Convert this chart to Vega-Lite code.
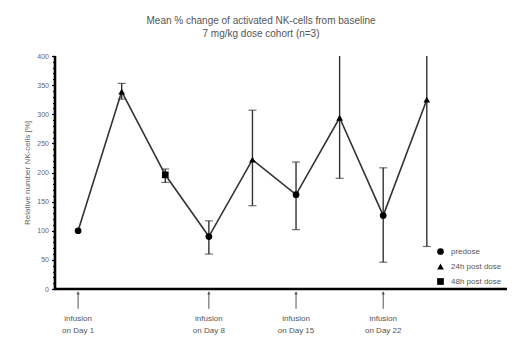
{
  "$schema": "https://vega.github.io/schema/vega-lite/v6.json",
  "autosize": "none",
  "padding": {"left": 55, "top": 56, "right": 15, "bottom": 63},
  "width": 452,
  "height": 233,
  "background": "white",
  "config": {
    "view": {"stroke": null},
    "font": "Liberation Sans",
    "axis": {"grid": false, "domain": false, "tickColor": "black"}
  },
  "title": {
    "text": ["Mean % change of activated NK-cells from baseline", "7 mg/kg dose cohort (n=3)"],
    "fontSize": 10,
    "fontWeight": "normal",
    "color": "#555555",
    "anchor": "middle",
    "dx": -20,
    "offset": 13,
    "lineHeight": 13
  },
  "datasets": {
    "pts": [
      {"i": 0, "time": "predose", "mean": 100},
      {"i": 1, "time": "24h post dose", "mean": 339, "lo": 326, "hi": 353},
      {"i": 2, "time": "48h post dose", "mean": 196, "lo": 183, "hi": 206},
      {"i": 3, "time": "predose", "mean": 90, "lo": 60, "hi": 117},
      {"i": 4, "time": "24h post dose", "mean": 222, "lo": 143, "hi": 307},
      {"i": 5, "time": "predose", "mean": 162, "lo": 102, "hi": 218},
      {"i": 6, "time": "24h post dose", "mean": 294, "lo": 190, "hi": 420},
      {"i": 7, "time": "predose", "mean": 126, "lo": 46, "hi": 208},
      {"i": 8, "time": "24h post dose", "mean": 325, "lo": 73, "hi": 420}
    ],
    "inf": [
      {"i": 0, "label": "infusion\non Day 1"},
      {"i": 3, "label": "infusion\non Day 8"},
      {"i": 5, "label": "infusion\non Day 15"},
      {"i": 7, "label": "infusion\non Day 22"}
    ]
  },
  "resolve": {"axis": {"y": "independent"}},
  "layer": [
    {
      "data": {"name": "pts"},
      "mark": {"type": "line", "color": "#333333", "strokeWidth": 1.6},
      "encoding": {
        "x": {"field": "i", "type": "quantitative", "scale": {"domain": [-0.53, 9.84], "nice": false, "zero": false},
              "axis": {"labels": false, "ticks": false, "title": null}},
        "y": {"field": "mean", "type": "quantitative", "scale": {"domain": [0, 400], "nice": false},
              "axis": {"values": [0,10,20,30,40,50,60,70,80,90,100,110,120,130,140,150,160,170,180,190,200,210,220,230,240,250,260,270,280,290,300,310,320,330,340,350,360,370,380,390,400],
                       "labels": false, "tickSize": 2.5, "tickColor": "black", "tickWidth": 1.2, "title": null, "orient": "left"}}
      }
    },
    {
      "data": {"values": [{}]},
      "mark": {"type": "rule", "color": "black", "strokeWidth": 2.6},
      "encoding": {
        "x": {"datum": -0.53, "type": "quantitative"},
        "x2": {"datum": 9.84},
        "y": {"datum": 0, "type": "quantitative", "axis": null}
      }
    },
    {
      "data": {"values": [{}]},
      "mark": {"type": "rule", "color": "black", "strokeWidth": 2.6},
      "encoding": {
        "x": {"datum": -0.53, "type": "quantitative"},
        "y": {"datum": 0, "type": "quantitative", "axis": null},
        "y2": {"datum": 400}
      }
    },
    {
      "data": {"name": "pts"},
      "transform": [{"filter": "isValid(datum.lo)"}],
      "mark": {"type": "rule", "color": "#333333", "strokeWidth": 1.4, "clip": true},
      "encoding": {
        "x": {"field": "i", "type": "quantitative"},
        "y": {"field": "lo", "type": "quantitative",
              "axis": {"values": [0,50,100,150,200,250,300,350,400], "tickSize": 3.5, "tickColor": "black", "tickWidth": 1.2,
                       "labelFontSize": 7, "labelColor": "#666666", "labelPadding": 3, "orient": "left",
                       "title": "Relative number NK-cells [%]", "titleFontSize": 8, "titleFontWeight": "normal",
                       "titleColor": "#666666", "titlePadding": 5}},
        "y2": {"field": "hi"}
      }
    },
    {
      "data": {"name": "pts"},
      "transform": [{"filter": "isValid(datum.lo)"}],
      "mark": {"type": "tick", "orient": "horizontal", "color": "#333333", "size": 8, "thickness": 1.2, "clip": true},
      "encoding": {
        "x": {"field": "i", "type": "quantitative"},
        "y": {"field": "lo", "type": "quantitative", "axis": null}
      }
    },
    {
      "data": {"name": "pts"},
      "transform": [{"filter": "isValid(datum.hi)"}],
      "mark": {"type": "tick", "orient": "horizontal", "color": "#333333", "size": 8, "thickness": 1.2, "clip": true},
      "encoding": {
        "x": {"field": "i", "type": "quantitative"},
        "y": {"field": "hi", "type": "quantitative", "axis": null}
      }
    },
    {
      "data": {"name": "pts"},
      "mark": {"type": "point", "filled": true, "color": "black", "size": 45, "opacity": 1},
      "encoding": {
        "x": {"field": "i", "type": "quantitative"},
        "y": {"field": "mean", "type": "quantitative", "axis": null},
        "shape": {"field": "time", "type": "nominal",
                  "scale": {"domain": ["predose", "24h post dose", "48h post dose"], "range": ["circle", "triangle-up", "square"]},
                  "legend": {"title": null, "orient": "none", "legendX": 381, "legendY": 191,
                             "labelFontSize": 8, "labelColor": "#555555", "symbolFillColor": "black",
                             "symbolStrokeColor": "black", "symbolSize": 45, "rowPadding": 2, "labelOffset": 6}}
      }
    },
    {
      "data": {"name": "inf"},
      "mark": {"type": "rule", "color": "#555555", "strokeWidth": 1},
      "encoding": {
        "x": {"field": "i", "type": "quantitative"},
        "y": {"datum": -5, "type": "quantitative", "axis": null},
        "y2": {"datum": -34}
      }
    },
    {
      "data": {"name": "inf"},
      "mark": {"type": "point", "shape": "triangle-up", "filled": true, "color": "#333333", "size": 12},
      "encoding": {
        "x": {"field": "i", "type": "quantitative"},
        "y": {"datum": -7, "type": "quantitative", "axis": null}
      }
    },
    {
      "data": {"name": "inf"},
      "mark": {"type": "text", "fontSize": 8, "color": "#555555", "baseline": "top", "align": "center", "lineBreak": "\n", "lineHeight": 12},
      "encoding": {
        "x": {"field": "i", "type": "quantitative"},
        "y": {"datum": -45, "type": "quantitative", "axis": null},
        "text": {"field": "label"}
      }
    }
  ]
}
